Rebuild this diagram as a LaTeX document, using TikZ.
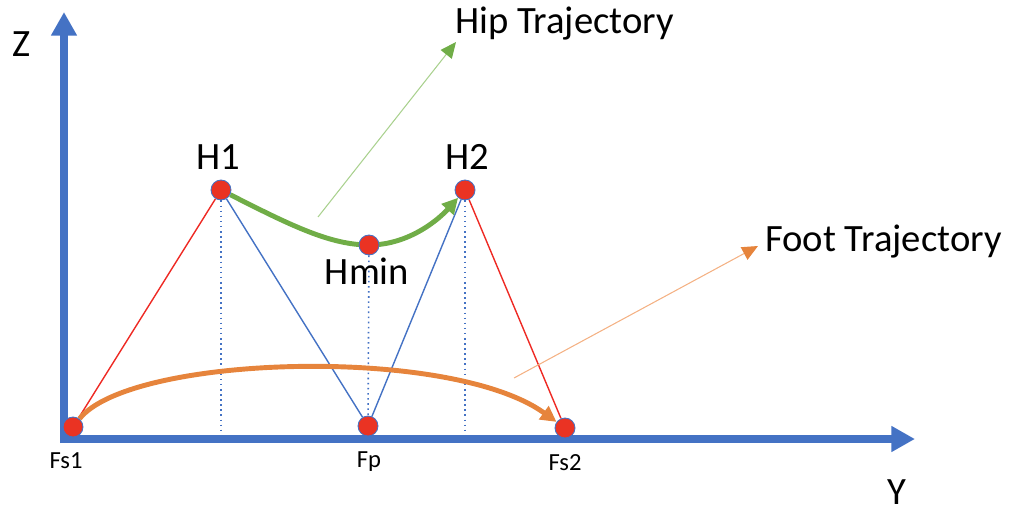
\documentclass[tikz,border=0pt]{standalone}
\usepackage{fontspec}
\setmainfont{Carlito}
\usepackage{tikz}
\usetikzlibrary{arrows.meta,backgrounds}

\definecolor{axisblue}{HTML}{4472C4}
\definecolor{dotred}{HTML}{EA3323}
\definecolor{legred}{HTML}{EE2A24}
\definecolor{hipgreen}{HTML}{70AD47}
\definecolor{hipleader}{HTML}{A9D18E}
\definecolor{footorange}{HTML}{E6843C}
\definecolor{footleader}{HTML}{F4B183}

\begin{document}
\begin{tikzpicture}[
  x=0.02cm,y=-0.02cm,
  dot/.style={circle,fill=dotred,draw=axisblue,line width=.5pt,
    minimum size=.4cm,inner sep=0pt},
  ptlabel/.style={font=\fontsize{22}{24}\selectfont},
  footlabel/.style={font=\fontsize{14}{16}\selectfont},
  axis/.style={draw=axisblue,line width=4.6pt,
    -{Triangle[length=13.5pt,width=14pt]}},
  leg/.style={line width=.8pt},
  plumb/.style={draw=axisblue,dotted,line width=.9pt},
  traj/.style={line width=2.8pt,-{Triangle[length=9pt,width=9pt]}},
  leader/.style={line width=.6pt}
]
\useasboundingbox (0,0) rectangle (1014,513);

% points of the step
\node[dot] (fs1) at (73,427) {};
\node[dot] (fp) at (368,426) {};
\node[dot] (fs2) at (565,428) {};
\node[dot] (h1) at (221,190) {};
\node[dot] (h2) at (465,190) {};
\node[dot] (hmin) at (369,245) {};

\coordinate (origin) at (64,443);
\coordinate (ztip) at (64,12);
\coordinate (ystart) at (60,439);
\coordinate (ytip) at (915,439);
\coordinate (h1foot) at (221,439);
\coordinate (h2foot) at (465,439);

% labels
\node[ptlabel] (zlab) at (22,44) {Z};
\node[ptlabel,inner sep=0pt] (ylab) at (897,492) {Y};
\node[ptlabel] (h1lab) at (218,157) {H1};
\node[ptlabel] (h2lab) at (467,157) {H2};
\node[ptlabel] (hminlab) at (367,271) {Hmin};
\node[footlabel] (fs1lab) at (66,461) {Fs1};
\node[footlabel] (fplab) at (369,462) {Fp};
\node[footlabel] (fs2lab) at (565,463) {Fs2};
\node[ptlabel,anchor=west,inner sep=0pt] (hiplab) at (455,24) {Hip Trajectory};
\node[ptlabel,anchor=west,inner sep=0pt] (footlab) at (765,242) {Foot Trajectory};

\coordinate (hipfrom) at (318,217);
\coordinate (hipto) at (456,42);
\coordinate (footfrom) at (514,378);
\coordinate (footto) at (758,246);

\begin{scope}[on background layer]
  \draw[axis] (origin) -- (ztip);
  \draw[axis] (ystart) -- (ytip);
  \draw[plumb] (h1) -- (h1foot);
  \draw[plumb] (h2) -- (h2foot);
  \draw[plumb] (hmin) -- (fp);
  \draw[leg,legred] (fs1) -- (h1);
  \draw[leg,legred] (h2) -- (fs2);
  \draw[leg,axisblue] (h1) -- (fp);
  \draw[leg,axisblue] (fp) -- (h2);
  \draw[traj,hipgreen] (h1) .. controls (290,225) and (330,245) .. (hmin.center)
    .. controls (410,245) and (440,218) .. (h2);
  \draw[traj,footorange] (fs1) .. controls (130,355) and (450,345) .. (fs2);
  \draw[leader,hipleader,-{Triangle[length=9pt,width=8pt,color=hipgreen]}]
    (hipfrom) -- (hipto);
  \draw[leader,footleader,-{Triangle[length=9pt,width=8pt,color=footorange]}]
    (footfrom) -- (footto);
\end{scope}
\end{tikzpicture}
\end{document}
